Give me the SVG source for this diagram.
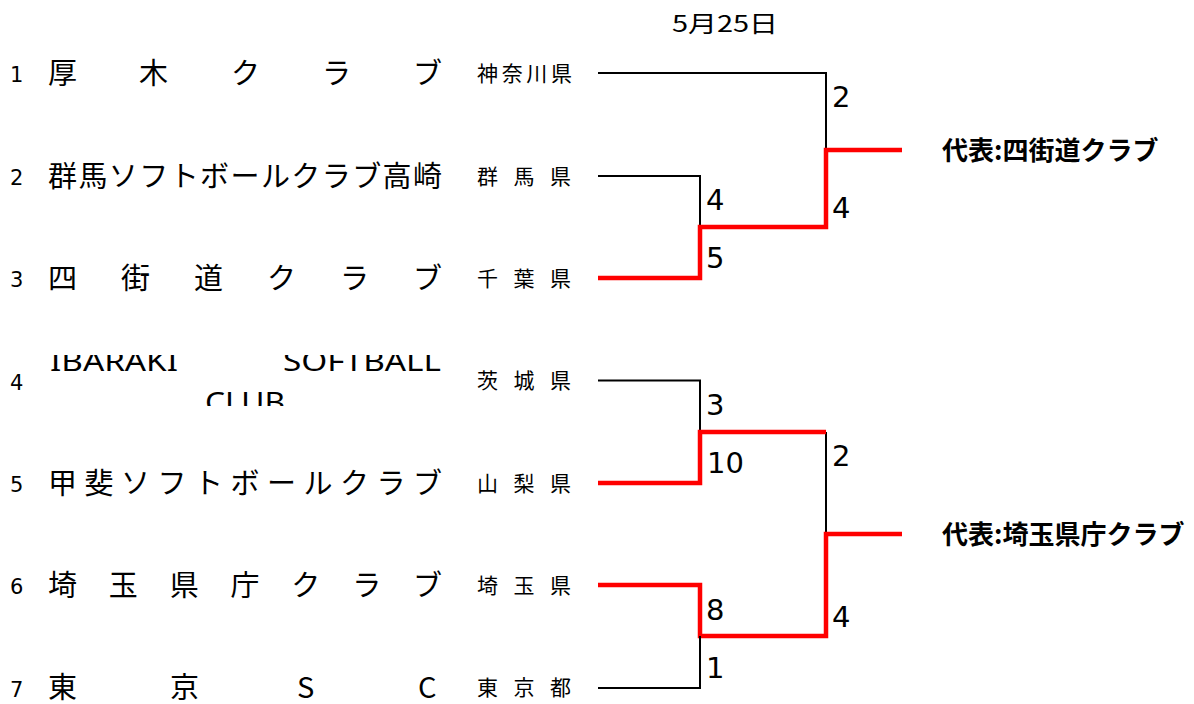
<svg xmlns="http://www.w3.org/2000/svg" width="1194" height="704" viewBox="0 0 1194 704">
<style>
.num{font-family:"DejaVu Sans",sans-serif;font-size:21px;fill:#000}
.team{font-family:"Noto Sans CJK JP",sans-serif;font-size:29px;fill:#000}
.pref{font-family:"Noto Sans CJK JP",sans-serif;font-size:21px;fill:#000}
.lat{font-family:"Noto Sans","Noto Sans CJK JP",sans-serif;font-size:28px;fill:#000}
.score{font-family:"DejaVu Sans",sans-serif;font-size:29px;fill:#000}
.win{font-family:"Noto Sans CJK JP",sans-serif;font-size:26px;font-weight:bold;fill:#000}
.title{font-family:"Noto Sans CJK JP",sans-serif;font-size:23px;fill:#000}
.bk{fill:none;stroke:#000;stroke-width:2}
.rd{fill:none;stroke:#ff0000;stroke-width:4.5}
</style>
<defs>
<clipPath id="clip4"><rect x="40" y="355" width="410" height="51"/></clipPath>
</defs>
<text class="title" x="672" y="32" textLength="106" lengthAdjust="spacingAndGlyphs">5月25日</text>

<g id="team1">
<text class="num" x="10" y="82">1</text>
<text class="team" x="48 139 231 322 413" y="84">厚木クラブ</text>
<text class="pref" x="477 501.7 526.3 551" y="81">神奈川県</text>
</g>
<g id="team2">
<text class="num" x="10" y="185">2</text>
<text class="team" x="48 78.4 108.8 139.3 169.7 200.1 230.5 260.9 291.3 321.8 352.2 382.6 413" y="187">群馬ソフトボールクラブ高崎</text>
<text class="pref" x="477 513.5 550" y="184">群馬県</text>
</g>
<g id="team3">
<text class="num" x="10" y="287">3</text>
<text class="team" x="48 121 194 267 340 413" y="289">四街道クラブ</text>
<text class="pref" x="477 513.5 550" y="286">千葉県</text>
</g>
<g id="team4">
<text class="num" x="10" y="390">4</text>
<g clip-path="url(#clip4)">
<text class="lat" x="50" y="371" textLength="128" lengthAdjust="spacingAndGlyphs">IBARAKI</text>
<text class="lat" x="283" y="371" textLength="158" lengthAdjust="spacingAndGlyphs">SOFTBALL</text>
<text class="lat" x="205" y="412" textLength="80" lengthAdjust="spacingAndGlyphs">CLUB</text>
</g>
<text class="pref" x="477 513.5 550" y="388">茨城県</text>
</g>
<g id="team5">
<text class="num" x="10" y="492">5</text>
<text class="team" x="48 84.5 121 157.5 194 230.5 267 303.5 340 376.5 413" y="494">甲斐ソフトボールクラブ</text>
<text class="pref" x="477 513.5 550" y="491">山梨県</text>
</g>
<g id="team6">
<text class="num" x="10" y="594">6</text>
<text class="team" x="48 108.8 169.7 230.5 291.3 352.2 413" y="596">埼玉県庁クラブ</text>
<text class="pref" x="477 513.5 550" y="593">埼玉県</text>
</g>
<g id="team7">
<text class="num" x="10" y="697">7</text>
<text class="team" x="48 170 297 418" y="698">東京SC</text>
<text class="pref" x="477 513.5 550" y="695">東京都</text>
</g>

<g id="connectors">
<path class="bk" d="M598 73 H826 V150"/>
<path class="bk" d="M598 176 H700 V227"/>
<path class="rd" d="M598 278 H700 V227 H826 V150 H902"/>
<path class="bk" d="M598 380.5 H700 V432"/>
<path class="bk" d="M826 432 V534"/>
<path class="rd" d="M598 483 H700 V432 H826"/>
<path class="rd" d="M598 585 H700 V636 H826 V534 H902"/>
<path class="bk" d="M598 688 H700 V636"/>
</g>

<g id="scores">
<text class="score" x="832" y="107">2</text>
<text class="score" x="832" y="218">4</text>
<text class="score" x="706" y="210">4</text>
<text class="score" x="706" y="268">5</text>
<text class="score" x="706" y="415">3</text>
<text class="score" x="707" y="473">10</text>
<text class="score" x="832" y="466">2</text>
<text class="score" x="706" y="620">8</text>
<text class="score" x="832" y="627">4</text>
<text class="score" x="706" y="678">1</text>
</g>

<g id="winner1"><text class="win" x="942" y="160">代表:四街道クラブ</text></g>
<g id="winner2"><text class="win" x="942" y="544">代表:埼玉県庁クラブ</text></g>
</svg>
